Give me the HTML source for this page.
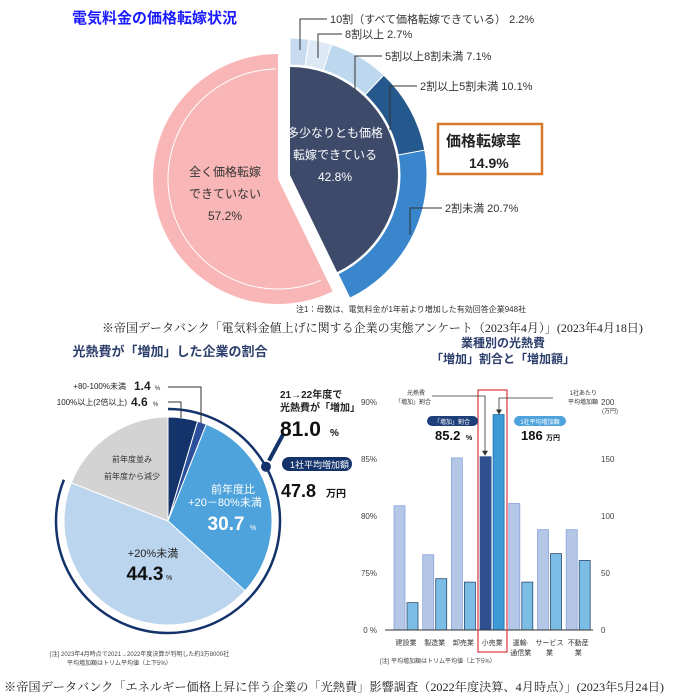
<!DOCTYPE html>
<html><head><meta charset="utf-8"><style>
html,body{margin:0;padding:0;background:#fff;}
svg{display:block;font-family:"Liberation Sans","Noto Sans CJK JP",sans-serif;}
.serif{font-family:"Liberation Serif","Noto Serif CJK SC",serif;}
</style></head><body>
<svg id="root" width="676" height="700" viewBox="0 0 676 700" xmlns="http://www.w3.org/2000/svg">
<g id="top"></g>
<g id="bl"></g>
<g id="br"></g>
</svg>
<script>
// ---- data ----
const topRingLabels = ["10割（すべて価格転嫁できている） 2.2%","8割以上 2.7%","5割以上8割未満 7.1%","2割以上5割未満 10.1%","2割未満 20.7%"];
const topRingValues = [2.2, 2.7, 7.1, 10.1, 20.7];
const topMainValues = [42.8, 57.2];
const blValues = [4.6, 1.4, 30.7, 44.3, 19.0];
const blIncreaseTotal = [81.0];
const categories = ["建設業","製造業","卸売業","小売業","運輸·|通信業","サービス|業","不動産|業"];
const ratioValues = [80.9, 76.6, 85.1, 85.2, 81.1, 78.8, 78.8];
const amountValues = [24, 45, 42, 189, 42, 67, 61];
const leftTicks = ["90%","85%","80%","75%","0 %"];
const leftTickVals = [90,85,80,75,0];
const rightTicks = ["200","150","100","50","0"];
const rightTickVals = [200,150,100,50,0];

const NS="http://www.w3.org/2000/svg";
function mk(parent,tag,attrs,text){const e=document.createElementNS(NS,tag);for(const k in attrs)e.setAttribute(k,attrs[k]);if(text!==undefined)e.textContent=text;parent.appendChild(e);return e;}
function pt(cx,cy,r,a){const t=a*Math.PI/180;return [cx+r*Math.sin(t),cy-r*Math.cos(t)];}
function sector(cx,cy,r0,r1,a0,a1){const l=(a1-a0)>180?1:0;const p1=pt(cx,cy,r1,a0),p2=pt(cx,cy,r1,a1);
 if(r0<=0)return `M${cx},${cy}L${p1[0]},${p1[1]}A${r1},${r1} 0 ${l} 1 ${p2[0]},${p2[1]}Z`;
 const p3=pt(cx,cy,r0,a1),p4=pt(cx,cy,r0,a0);
 return `M${p1[0]},${p1[1]}A${r1},${r1} 0 ${l} 1 ${p2[0]},${p2[1]}L${p3[0]},${p3[1]}A${r0},${r0} 0 ${l} 0 ${p4[0]},${p4[1]}Z`;}
function arc(cx,cy,r,a0,a1){const l=(a1-a0)>180?1:0;const p1=pt(cx,cy,r,a0),p2=pt(cx,cy,r,a1);return `M${p1[0]},${p1[1]}A${r},${r} 0 ${l} 1 ${p2[0]},${p2[1]}`;}

// ---- top chart ----
const T=document.getElementById('top');
let e;
e=mk(T,'text',{x:72,y:23,'font-size':15,'font-weight':'bold',fill:'#1a1aff'},'電気料金の価格転嫁状況');


const pinkA0=topMainValues[0]/100*360;
e=mk(T,'path',{d:sector(278,179,0,125,pinkA0,360),fill:'#f9b6b6'});


e=mk(T,'path',{d:arc(278,179,110,pinkA0+3,359),fill:'none',stroke:'#fff','stroke-width':1});


e=mk(T,'path',{d:sector(290,175,0,108,0,pinkA0),fill:'#3d4a69'});


const ringColors=['#c6dbef','#dde9f5','#bdd7ee','#25598d','#3a86cc'];
let acc=0;
topRingValues.forEach((v,i)=>{const a0=acc/100*360,a1=(acc+v)/100*360;acc+=v;
 const p=mk(T,'path',{d:sector(290,175,110,137,a0,a1),fill:ringColors[i],stroke:'#fff','stroke-width':1});
 
 });
const topLab=[[330,23,300,22,300,50],[345,38,318,38,318,58],[385,60,355,60,355,90],[420,90,390,110,390,130],[445,212,410,218,410,235]];
topRingLabels.forEach((s,i)=>{const L=topLab[i];
 mk(T,'polyline',{points:`${L[0]-3},${L[1]-4} ${L[2]},${L[1]-4} ${L[4]},${L[5]}`,fill:'none',stroke:'#333','stroke-width':1});
 const t=mk(T,'text',{x:L[0],y:L[1],'font-size':11,fill:'#333'},s);
 
 });
[['多少なりとも価格',335,137],['転嫁できている',335,159],['42.8%',335,181]].forEach((a,i)=>{const t=mk(T,'text',{x:a[1],y:a[2],'font-size':12,fill:'#fff','text-anchor':'middle'},a[0]);
 });
[['全く価格転嫁',225,176],['できていない',225,198],['57.2%',225,220]].forEach((a,i)=>{const t=mk(T,'text',{x:a[1],y:a[2],'font-size':12,fill:'#333','text-anchor':'middle'},a[0]);
 });
e=mk(T,'rect',{x:438,y:124,width:104,height:50,fill:'#fff',stroke:'#d97a2b','stroke-width':2.5});

mk(T,'text',{x:446,y:146,'font-size':15,'font-weight':'bold',fill:'#222'},'価格転嫁率');
mk(T,'text',{x:469,y:168,'font-size':14,'font-weight':'bold',fill:'#222'},'14.9%');
e=mk(T,'text',{x:296,y:312,'font-size':8,fill:'#333'},'注1：母数は、電気料金が1年前より増加した有効回答企業948社');

e=mk(T,'text',{x:102,y:332,'font-size':12,fill:'#222','class':'serif'},'※帝国データバンク「電気料金値上げに関する企業の実態アンケート（2023年4月）」(2023年4月18日)');


// ---- bottom left pie ----
const B=document.getElementById('bl');
e=mk(B,'text',{x:170,y:356,'font-size':13,'font-weight':'bold',fill:'#2c3e6b','text-anchor':'middle'},'光熱費が「増加」した企業の割合');

const blColors=['#13336a','#2b4f9a','#4fa3dc','#bcd5ee','#d3d3d3'];
const cx=168,cy=521,R=104;
acc=0;
blValues.forEach((v,i)=>{const a0=acc/100*360,a1=(acc+v)/100*360;acc+=v;
 const p=mk(B,'path',{d:sector(cx,cy,0,R,a0,a1),fill:blColors[i],stroke:'#fff','stroke-width':1});
 
 });
const arcEnd=blIncreaseTotal[0]/100*360;
e=mk(B,'path',{d:arc(cx,cy,112,0,arcEnd),fill:'none',stroke:'#13336a','stroke-width':2.5});

const dp=pt(cx,cy,112,61);
mk(B,'circle',{cx:dp[0],cy:dp[1],r:5,fill:'#13336a'});
mk(B,'line',{x1:dp[0]+3,y1:dp[1]-6,x2:dp[0]+17,y2:dp[1]-32,stroke:'#13336a','stroke-width':4});
mk(B,'text',{x:126,y:389,'font-size':8,fill:'#222','text-anchor':'end'},'+80-100%未満');
mk(B,'text',{x:134,y:390,'font-size':12,'font-weight':'bold',fill:'#222'},'1.4');
mk(B,'text',{x:155,y:390,'font-size':6,fill:'#222'},'%');
mk(B,'text',{x:127,y:405,'font-size':8,fill:'#222','text-anchor':'end'},'100%以上(2倍以上)');
mk(B,'text',{x:131,y:406,'font-size':12,'font-weight':'bold',fill:'#222'},'4.6');
mk(B,'text',{x:153,y:406,'font-size':6,fill:'#222'},'%');
mk(B,'polyline',{points:'168,387 201,387 201,423',fill:'none',stroke:'#333','stroke-width':1});
mk(B,'polyline',{points:'168,402 181,402 181,418',fill:'none',stroke:'#333','stroke-width':1});
mk(B,'text',{x:280,y:398,'font-size':10,'font-weight':'bold',fill:'#222'},'21→22年度で');
mk(B,'text',{x:280,y:411,'font-size':10,'font-weight':'bold',fill:'#222'},'光熱費が「増加」');
e=mk(B,'text',{x:280,y:436,'font-size':21,'font-weight':'bold',fill:'#111'},'81.0');

mk(B,'text',{x:330,y:436,'font-size':10,'font-weight':'bold',fill:'#111'},'%');
mk(B,'rect',{x:282,y:457,width:70,height:14,rx:7,fill:'#13336a'});
mk(B,'text',{x:290,y:468,'font-size':9,fill:'#fff'},'1社平均増加額');
mk(B,'text',{x:281,y:497,'font-size':18,'font-weight':'bold',fill:'#111'},'47.8');
mk(B,'text',{x:326,y:497,'font-size':10,'font-weight':'bold',fill:'#111'},'万円');
mk(B,'text',{x:132,y:462,'font-size':8,fill:'#333','text-anchor':'middle'},'前年度並み');
mk(B,'text',{x:132,y:479,'font-size':8,fill:'#333','text-anchor':'middle'},'前年度から減少');
mk(B,'text',{x:233,y:493,'font-size':11,fill:'#fff','text-anchor':'middle'},'前年度比');
mk(B,'text',{x:225,y:506,'font-size':11,fill:'#fff','text-anchor':'middle'},'+20－80%未満');
mk(B,'text',{x:226,y:530,'font-size':19,'font-weight':'bold',fill:'#fff','text-anchor':'middle'},'30.7');
mk(B,'text',{x:250,y:530,'font-size':7,fill:'#fff'},'%');
mk(B,'text',{x:153,y:557,'font-size':11,fill:'#222','text-anchor':'middle'},'+20%未満');
mk(B,'text',{x:145,y:580,'font-size':19,'font-weight':'bold',fill:'#111','text-anchor':'middle'},'44.3');
mk(B,'text',{x:166,y:580,'font-size':7,fill:'#111'},'%');
mk(B,'text',{x:50,y:656,'font-size':6,fill:'#444'},'[注] 2023年4月時点で2021→2022年度決算が判明した約3万8000社');
mk(B,'text',{x:67,y:665,'font-size':6,fill:'#444'},'平均増加額はトリム平均値（上下5%）');
e=mk(B,'text',{x:4,y:691,'font-size':12,fill:'#222','class':'serif',textLength:660,lengthAdjust:'spacingAndGlyphs'},'※帝国データバンク「エネルギー価格上昇に伴う企業の「光熱費」影響調査（2022年度決算、4月時点）」(2023年5月24日)');


// ---- bottom right bars ----
const C=document.getElementById('br');
function yRatio(v){return v>=75?573-(v-75)*11.4:630-v*(57/75);}
function yAmt(v){return 630-v*1.14;}
function xGroup(i){return 394+i*28.7;}
mk(C,'text',{x:503,y:347,'font-size':12,'font-weight':'bold',fill:'#2c3e6b','text-anchor':'middle'},'業種別の光熱費');
e=mk(C,'text',{x:503,y:363,'font-size':12,'font-weight':'bold',fill:'#2c3e6b','text-anchor':'middle'},'「増加」割合と「増加額」');

leftTicks.forEach((s,i)=>{const t=mk(C,'text',{x:377,y:yRatio(leftTickVals[i])+3,'font-size':8,fill:'#444','text-anchor':'end'},s);
 });
rightTicks.forEach((s,i)=>{const t=mk(C,'text',{x:601,y:yAmt(rightTickVals[i])+3,'font-size':8,fill:'#444'},s);
 });
mk(C,'text',{x:602,y:413,'font-size':6,fill:'#444'},'(万円)');
categories.forEach((c,i)=>{const x=xGroup(i);const hi=(i===3);
 const r=mk(C,'rect',{x:x,y:yRatio(ratioValues[i]),width:11,height:630-yRatio(ratioValues[i]),fill:hi?'#2f4f8f':'#b4c7e7',stroke:hi?'#2f4f8f':'#8aa3dc','stroke-width':0.8});
 
 
 const a=mk(C,'rect',{x:x+13,y:yAmt(amountValues[i]),width:11,height:630-yAmt(amountValues[i]),fill:hi?'#3d9ad6':'#7cbde6',stroke:hi?'#1e6aa6':'#2b4a6e','stroke-width':0.8});
 
 
 c.split('|').forEach((s,j)=>{const t=mk(C,'text',{x:x+12,y:645+j*10,'font-size':7,fill:'#333','text-anchor':'middle'},s);
  });});
mk(C,'line',{x1:385,y1:630,x2:593,y2:630,stroke:'#333','stroke-width':1});
e=mk(C,'rect',{x:478,y:390,width:29,height:262,fill:'none',stroke:'#d9363e','stroke-width':1.2});

mk(C,'text',{x:407,y:395,'font-size':6,fill:'#333'},'光熱費');
mk(C,'text',{x:395,y:404,'font-size':6,fill:'#333'},'「増加」割合');
mk(C,'polyline',{points:`432,396 485,396 485,${yRatio(ratioValues[3])-4}`,fill:'none',stroke:'#333','stroke-width':0.8});
mk(C,'path',{d:`M482,${yRatio(ratioValues[3])-6}L488,${yRatio(ratioValues[3])-6}L485,${yRatio(ratioValues[3])-1}Z`,fill:'#333'});
mk(C,'text',{x:597,y:395,'font-size':6,fill:'#333','text-anchor':'end'},'1社あたり');
mk(C,'text',{x:598,y:404,'font-size':6,fill:'#333','text-anchor':'end'},'平均増加額');
mk(C,'polyline',{points:`553,398 499,398 499,${yAmt(amountValues[3])-3}`,fill:'none',stroke:'#333','stroke-width':0.8});
mk(C,'path',{d:`M496,${yAmt(amountValues[3])-5}L502,${yAmt(amountValues[3])-5}L499,${yAmt(amountValues[3])}Z`,fill:'#333'});
mk(C,'rect',{x:427,y:416,width:51,height:10,rx:5,fill:'#1f3f7a'});
mk(C,'text',{x:452,y:424,'font-size':6,fill:'#fff','text-anchor':'middle'},'「増加」割合');
mk(C,'text',{x:435,y:440,'font-size':13,'font-weight':'bold',fill:'#111'},'85.2');
mk(C,'text',{x:466,y:440,'font-size':7,'font-weight':'bold',fill:'#111'},'%');
mk(C,'rect',{x:514,y:416,width:52,height:10,rx:5,fill:'#4fa3dc'});
mk(C,'text',{x:540,y:424,'font-size':6,fill:'#fff','text-anchor':'middle'},'1社平均増加額');
mk(C,'text',{x:521,y:440,'font-size':13,'font-weight':'bold',fill:'#111'},'186');
mk(C,'text',{x:546,y:440,'font-size':7,'font-weight':'bold',fill:'#111'},'万円');
mk(C,'text',{x:380,y:663,'font-size':6,fill:'#444'},'[注] 平均増加額はトリム平均値（上下5%）');
</script>
</body></html>
